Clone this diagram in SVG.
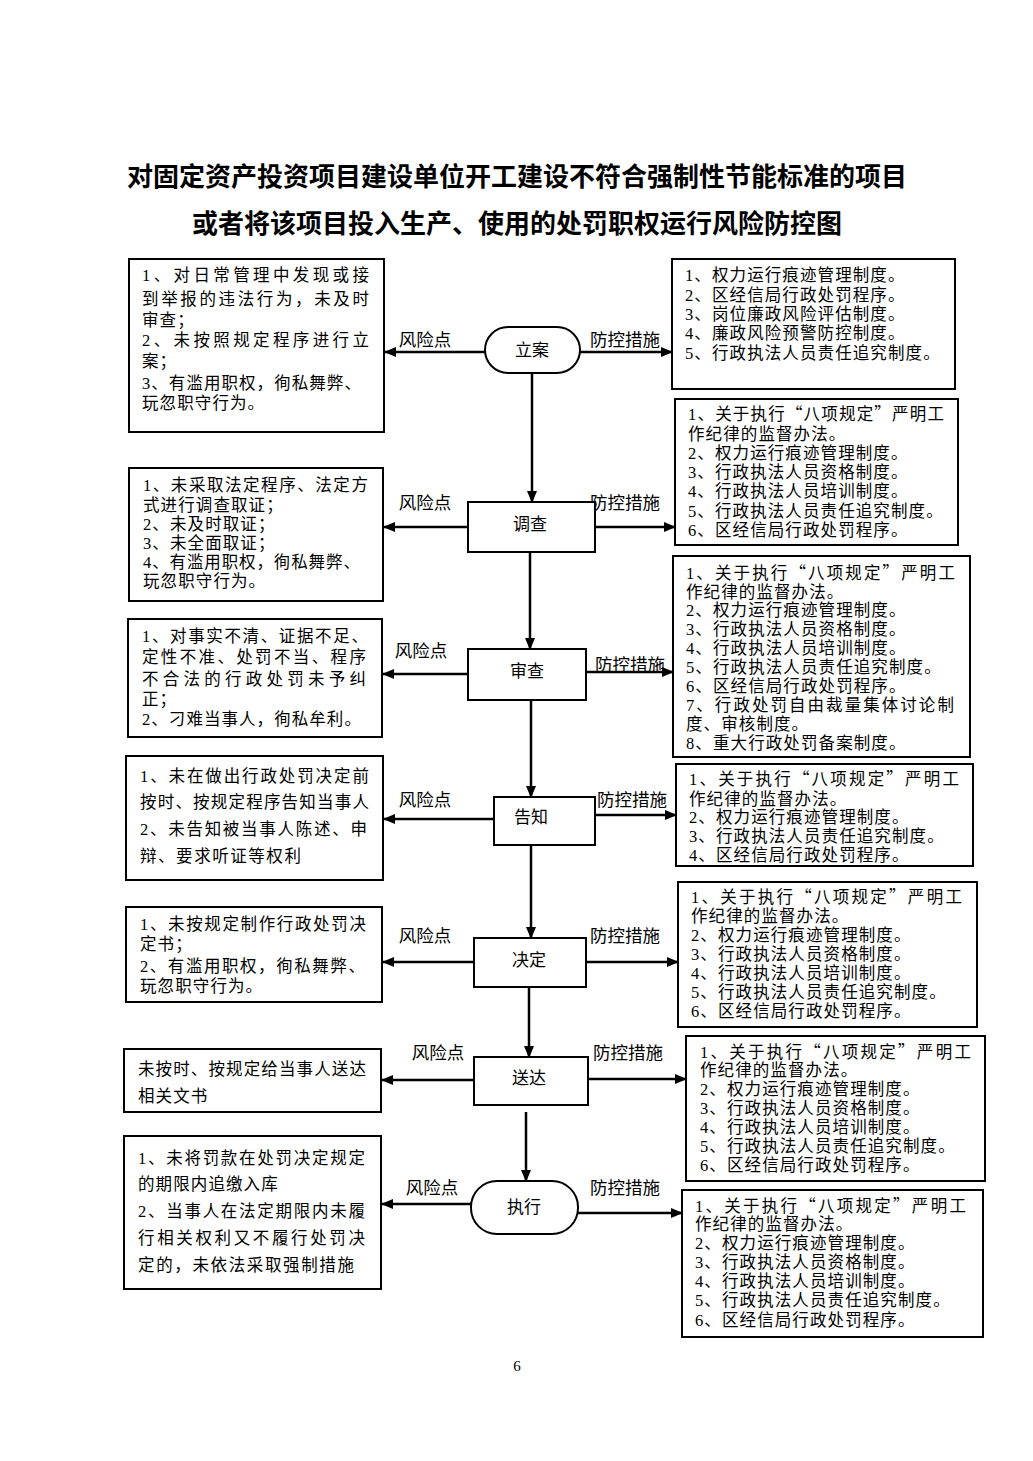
<svg xmlns="http://www.w3.org/2000/svg" width="1033" height="1461" viewBox="0 0 1033 1461">
<style>
.bg{fill:#fff}
.box{fill:#fff;stroke:#000;stroke-width:2}
.t{font-family:"Liberation Serif","Noto Sans CJK SC",serif;font-size:16.5px;letter-spacing:1.1px;fill:#000}
.q{font-family:"Noto Sans CJK SC",sans-serif}
.n{font-family:"Liberation Serif","Noto Sans CJK SC",serif;font-size:17px;fill:#000;text-anchor:middle}
.lb{font-family:"Liberation Serif","Noto Sans CJK SC",serif;font-size:17.5px;fill:#000;text-anchor:middle}
.title{font-family:"Liberation Serif","Noto Sans CJK SC",serif;font-size:26px;font-weight:bold;fill:#000;text-anchor:middle}
.pg{font-family:"Liberation Serif",serif;font-size:15px;fill:#000;text-anchor:middle}
.c{stroke:#000;stroke-width:2.5;fill:none;marker-end:url(#ah)}
</style>
<defs>
<marker id="ah" markerUnits="userSpaceOnUse" markerWidth="12" markerHeight="10" refX="11" refY="5" orient="auto">
<path d="M0,0 L12,5 L0,10 z" fill="#000"/>
</marker>
</defs>
<rect class="bg" x="0" y="0" width="1033" height="1461"/>

<g id="title">
<text class="title" x="517" y="186">对固定资产投资项目建设单位开工建设不符合强制性节能标准的项目</text>
<text class="title" x="517" y="233">或者将该项目投入生产、使用的处罚职权运行风险防控图</text>
</g>

<g id="connectors">
<line class="c" x1="532" y1="373" x2="532" y2="502"/>
<line class="c" x1="530" y1="552" x2="530" y2="649"/>
<line class="c" x1="531" y1="700" x2="531" y2="797"/>
<line class="c" x1="531" y1="845" x2="531" y2="938"/>
<line class="c" x1="529" y1="987" x2="529" y2="1057"/>
<line class="c" x1="526" y1="1112" x2="526" y2="1181"/>

<line class="c" x1="485" y1="352" x2="385" y2="352"/>
<line class="c" x1="580" y1="352" x2="672" y2="352"/>
<line class="c" x1="468" y1="527" x2="384" y2="527"/>
<line class="c" x1="595" y1="527" x2="675" y2="527"/>
<line class="c" x1="468" y1="674" x2="383" y2="674"/>
<line class="c" x1="586" y1="672" x2="673" y2="672"/>
<line class="c" x1="494" y1="819" x2="384" y2="819"/>
<line class="c" x1="595" y1="815" x2="676" y2="815"/>
<line class="c" x1="474" y1="962" x2="383" y2="962"/>
<line class="c" x1="586" y1="962" x2="678" y2="962"/>
<line class="c" x1="474" y1="1080" x2="382" y2="1080"/>
<line class="c" x1="588" y1="1079" x2="686" y2="1079"/>
<line class="c" x1="471" y1="1204" x2="382" y2="1204"/>
<line class="c" x1="578" y1="1213" x2="682" y2="1213"/>

<text class="lb" x="425" y="346">风险点</text>
<text class="lb" x="625" y="346">防控措施</text>
<text class="lb" x="425" y="509">风险点</text>
<text class="lb" x="625" y="509">防控措施</text>
<text class="lb" x="421" y="657">风险点</text>
<text class="lb" x="630" y="671">防控措施</text>
<text class="lb" x="425" y="806">风险点</text>
<text class="lb" x="632" y="806">防控措施</text>
<text class="lb" x="425" y="942">风险点</text>
<text class="lb" x="625" y="942">防控措施</text>
<text class="lb" x="438" y="1059">风险点</text>
<text class="lb" x="628" y="1059">防控措施</text>
<text class="lb" x="432" y="1194">风险点</text>
<text class="lb" x="625" y="1194">防控措施</text>
</g>

<g id="n-lian">
<rect class="box" x="485" y="327" width="95" height="46" rx="23" ry="23"/>
<text class="n" x="532" y="356">立案</text>
</g>
<g id="n-diaocha">
<rect class="box" x="468" y="502" width="127" height="50"/>
<text class="n" x="530" y="530">调查</text>
</g>
<g id="n-shencha">
<rect class="box" x="468" y="649" width="118" height="51"/>
<text class="n" x="527" y="677">审查</text>
</g>
<g id="n-gaozhi">
<rect class="box" x="494" y="797" width="101" height="48"/>
<text class="n" x="531" y="823">告知</text>
</g>
<g id="n-jueding">
<rect class="box" x="474" y="938" width="112" height="49"/>
<text class="n" x="529" y="966">决定</text>
</g>
<g id="n-songda">
<rect class="box" x="474" y="1057" width="114" height="48"/>
<text class="n" x="529" y="1084">送达</text>
</g>
<g id="n-zhixing">
<rect class="box" x="471" y="1181" width="107" height="53" rx="26" ry="26"/>
<text class="n" x="524" y="1213">执行</text>
</g>

<g id="risk-lian">
<rect class="box" x="129" y="259" width="255" height="173"/>
<text class="t" x="142" y="281" textLength="228" lengthAdjust="spacing">1、对日常管理中发现或接</text>
<text class="t" x="142" y="305" textLength="228" lengthAdjust="spacing">到举报的违法行为，未及时</text>
<text class="t" x="142" y="326">审查；</text>
<text class="t" x="142" y="346" textLength="228" lengthAdjust="spacing">2、未按照规定程序进行立</text>
<text class="t" x="142" y="367">案；</text>
<text class="t" x="142" y="389" textLength="220" lengthAdjust="spacing">3、有滥用职权，徇私舞弊、</text>
<text class="t" x="142" y="409">玩忽职守行为。</text>
</g>
<g id="ctrl-lian">
<rect class="box" x="672" y="259" width="283" height="130"/>
<text class="t" x="685" y="281">1、权力运行痕迹管理制度。</text>
<text class="t" x="685" y="301">2、区经信局行政处罚程序。</text>
<text class="t" x="685" y="320">3、岗位廉政风险评估制度。</text>
<text class="t" x="685" y="339">4、廉政风险预警防控制度。</text>
<text class="t" x="685" y="359">5、行政执法人员责任追究制度。</text>
</g>

<g id="ctrl-diaocha">
<rect class="box" x="675" y="399" width="283" height="146"/>
<text class="t" x="688" y="420" textLength="257" lengthAdjust="spacing">1、关于执行<tspan class="q">“</tspan>八项规定<tspan class="q">”</tspan>严明工</text>
<text class="t" x="688" y="440">作纪律的监督办法。</text>
<text class="t" x="688" y="459">2、权力运行痕迹管理制度。</text>
<text class="t" x="688" y="478">3、行政执法人员资格制度。</text>
<text class="t" x="688" y="497">4、行政执法人员培训制度。</text>
<text class="t" x="688" y="517">5、行政执法人员责任追究制度。</text>
<text class="t" x="688" y="536">6、区经信局行政处罚程序。</text>
</g>
<g id="risk-diaocha">
<rect class="box" x="129" y="468" width="254" height="133"/>
<text class="t" x="143" y="491" textLength="226" lengthAdjust="spacing">1、未采取法定程序、法定方</text>
<text class="t" x="143" y="511">式进行调查取证；</text>
<text class="t" x="143" y="530">2、未及时取证；</text>
<text class="t" x="143" y="549">3、未全面取证；</text>
<text class="t" x="143" y="568" textLength="218" lengthAdjust="spacing">4、有滥用职权，徇私舞弊、</text>
<text class="t" x="143" y="587">玩忽职守行为。</text>
</g>

<g id="ctrl-shencha">
<rect class="box" x="673" y="556" width="297" height="201"/>
<text class="t" x="686" y="579" textLength="270" lengthAdjust="spacing">1、关于执行<tspan class="q">“</tspan>八项规定<tspan class="q">”</tspan>严明工</text>
<text class="t" x="686" y="598">作纪律的监督办法。</text>
<text class="t" x="686" y="616">2、权力运行痕迹管理制度。</text>
<text class="t" x="686" y="635">3、行政执法人员资格制度。</text>
<text class="t" x="686" y="654">4、行政执法人员培训制度。</text>
<text class="t" x="686" y="673">5、行政执法人员责任追究制度。</text>
<text class="t" x="686" y="692">6、区经信局行政处罚程序。</text>
<text class="t" x="686" y="711" textLength="269" lengthAdjust="spacing">7、行政处罚自由裁量集体讨论制</text>
<text class="t" x="686" y="730">度、审核制度。</text>
<text class="t" x="686" y="749">8、重大行政处罚备案制度。</text>
</g>
<g id="risk-shencha">
<rect class="box" x="128" y="619" width="254" height="118"/>
<text class="t" x="142" y="642" textLength="227" lengthAdjust="spacing">1、对事实不清、证据不足、</text>
<text class="t" x="142" y="663" textLength="225" lengthAdjust="spacing">定性不准、处罚不当、程序</text>
<text class="t" x="142" y="685" textLength="225" lengthAdjust="spacing">不合法的行政处罚未予纠</text>
<text class="t" x="142" y="705">正；</text>
<text class="t" x="142" y="725" textLength="220" lengthAdjust="spacing">2、刁难当事人，徇私牟利。</text>
</g>

<g id="risk-gaozhi">
<rect class="box" x="126" y="756" width="257" height="124"/>
<text class="t" x="140" y="782" textLength="230" lengthAdjust="spacing">1、未在做出行政处罚决定前</text>
<text class="t" x="140" y="808" textLength="230" lengthAdjust="spacing">按时、按规定程序告知当事人</text>
<text class="t" x="140" y="835" textLength="228" lengthAdjust="spacing">2、未告知被当事人陈述、申</text>
<text class="t" x="140" y="862" textLength="162" lengthAdjust="spacing">辩、要求听证等权利</text>
</g>
<g id="ctrl-gaozhi">
<rect class="box" x="676" y="764" width="297" height="102"/>
<text class="t" x="689" y="785" textLength="271" lengthAdjust="spacing">1、关于执行<tspan class="q">“</tspan>八项规定<tspan class="q">”</tspan>严明工</text>
<text class="t" x="689" y="805">作纪律的监督办法。</text>
<text class="t" x="689" y="823">2、权力运行痕迹管理制度。</text>
<text class="t" x="689" y="842">3、行政执法人员责任追究制度。</text>
<text class="t" x="689" y="861">4、区经信局行政处罚程序。</text>
</g>

<g id="risk-jueding">
<rect class="box" x="126" y="907" width="256" height="95"/>
<text class="t" x="140" y="930" textLength="227" lengthAdjust="spacing">1、未按规定制作行政处罚决</text>
<text class="t" x="140" y="950">定书；</text>
<text class="t" x="140" y="972" textLength="226" lengthAdjust="spacing">2、有滥用职权，徇私舞弊、</text>
<text class="t" x="140" y="992">玩忽职守行为。</text>
</g>
<g id="ctrl-jueding">
<rect class="box" x="678" y="882" width="299" height="145"/>
<text class="t" x="691" y="903" textLength="272" lengthAdjust="spacing">1、关于执行<tspan class="q">“</tspan>八项规定<tspan class="q">”</tspan>严明工</text>
<text class="t" x="691" y="922">作纪律的监督办法。</text>
<text class="t" x="691" y="941">2、权力运行痕迹管理制度。</text>
<text class="t" x="691" y="960">3、行政执法人员资格制度。</text>
<text class="t" x="691" y="979">4、行政执法人员培训制度。</text>
<text class="t" x="691" y="998">5、行政执法人员责任追究制度。</text>
<text class="t" x="691" y="1017">6、区经信局行政处罚程序。</text>
</g>

<g id="risk-songda">
<rect class="box" x="124" y="1049" width="257" height="63"/>
<text class="t" x="138" y="1075" textLength="229" lengthAdjust="spacing">未按时、按规定给当事人送达</text>
<text class="t" x="138" y="1102">相关文书</text>
</g>
<g id="ctrl-songda">
<rect class="box" x="686" y="1036" width="299" height="145"/>
<text class="t" x="700" y="1058" textLength="272" lengthAdjust="spacing">1、关于执行<tspan class="q">“</tspan>八项规定<tspan class="q">”</tspan>严明工</text>
<text class="t" x="700" y="1076">作纪律的监督办法。</text>
<text class="t" x="700" y="1095">2、权力运行痕迹管理制度。</text>
<text class="t" x="700" y="1114">3、行政执法人员资格制度。</text>
<text class="t" x="700" y="1133">4、行政执法人员培训制度。</text>
<text class="t" x="700" y="1152">5、行政执法人员责任追究制度。</text>
<text class="t" x="700" y="1171">6、区经信局行政处罚程序。</text>
</g>

<g id="risk-zhixing">
<rect class="box" x="124" y="1136" width="257" height="153"/>
<text class="t" x="138" y="1164" textLength="228" lengthAdjust="spacing">1、未将罚款在处罚决定规定</text>
<text class="t" x="138" y="1190">的期限内追缴入库</text>
<text class="t" x="138" y="1217" textLength="228" lengthAdjust="spacing">2、当事人在法定期限内未履</text>
<text class="t" x="138" y="1244" textLength="228" lengthAdjust="spacing">行相关权利又不履行处罚决</text>
<text class="t" x="138" y="1271" textLength="217" lengthAdjust="spacing">定的，未依法采取强制措施</text>
</g>
<g id="ctrl-zhixing">
<rect class="box" x="682" y="1190" width="301" height="147"/>
<text class="t" x="695" y="1212" textLength="272" lengthAdjust="spacing">1、关于执行<tspan class="q">“</tspan>八项规定<tspan class="q">”</tspan>严明工</text>
<text class="t" x="695" y="1230">作纪律的监督办法。</text>
<text class="t" x="695" y="1249">2、权力运行痕迹管理制度。</text>
<text class="t" x="695" y="1268">3、行政执法人员资格制度。</text>
<text class="t" x="695" y="1287">4、行政执法人员培训制度。</text>
<text class="t" x="695" y="1306">5、行政执法人员责任追究制度。</text>
<text class="t" x="695" y="1326">6、区经信局行政处罚程序。</text>
</g>

<text class="pg" x="517" y="1371">6</text>
</svg>
